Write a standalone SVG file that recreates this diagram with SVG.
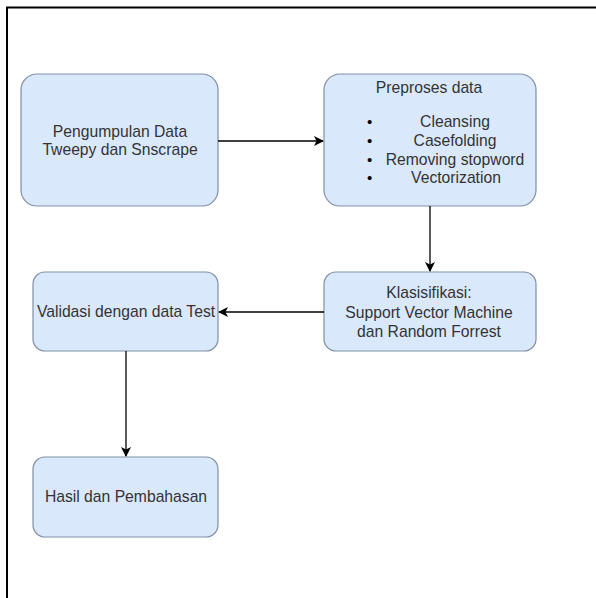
<svg xmlns="http://www.w3.org/2000/svg" width="596" height="598" viewBox="0 0 596 598">
<defs>
<style>
.box{fill:#dae8fc;stroke:#7f8fa6;stroke-width:1.2}
.t{font-family:"Liberation Sans",Arial,sans-serif;font-size:15.7px;fill:#333333;text-anchor:middle}
.c{stroke:#000;stroke-width:1.3;fill:none}
</style>
<marker id="ah" viewBox="0 0 10 10" refX="9" refY="5" markerWidth="10" markerHeight="10" markerUnits="userSpaceOnUse" orient="auto">
<path d="M0,0 L10,5 L0,10 L2.5,5 Z" fill="#000"/>
</marker>
</defs>
<rect width="596" height="598" fill="#ffffff"/>
<path d="M7,598 L7,7.5 L596,7.5" fill="none" stroke="#000" stroke-width="2"/>
<g id="n1">
<rect class="box" x="21" y="74" width="197" height="132" rx="16"/>
<text class="t" x="120" y="137">Pengumpulan Data</text>
<text class="t" x="120" y="155">Tweepy dan Snscrape</text>
</g>
<g id="n2">
<rect class="box" x="324" y="74" width="212" height="132" rx="16"/>
<text class="t" x="429" y="93">Preproses data</text>
<g style="font-family:'Liberation Sans',Arial,sans-serif;font-size:15px;fill:#000">
<text x="367" y="127">•</text>
<text x="367" y="146">•</text>
<text x="367" y="165">•</text>
<text x="367" y="183">•</text>
</g>
<text class="t" x="455" y="127">Cleansing</text>
<text class="t" x="455" y="146">Casefolding</text>
<text class="t" x="455" y="165">Removing stopword</text>
<text class="t" x="456" y="183">Vectorization</text>
</g>
<g id="n3">
<rect class="box" x="33" y="272" width="185" height="79" rx="12"/>
<text class="t" x="126" y="317">Validasi dengan data Test</text>
</g>
<g id="n4">
<rect class="box" x="324" y="272" width="212" height="79" rx="12"/>
<text class="t" x="429" y="298">Klasisifikasi:</text>
<text class="t" x="429" y="318">Support Vector Machine</text>
<text class="t" x="429" y="337">dan Random Forrest</text>
</g>
<g id="n5">
<rect class="box" x="33" y="457" width="185" height="80" rx="12"/>
<text class="t" x="126" y="502">Hasil dan Pembahasan</text>
</g>
<g id="connectors">
<line class="c" x1="218" y1="141" x2="323" y2="141" marker-end="url(#ah)"/>
<line class="c" x1="430" y1="206" x2="430" y2="271" marker-end="url(#ah)"/>
<line class="c" x1="324" y1="312" x2="219" y2="312" marker-end="url(#ah)"/>
<line class="c" x1="126" y1="351" x2="126" y2="456" marker-end="url(#ah)"/>
</g>
</svg>
